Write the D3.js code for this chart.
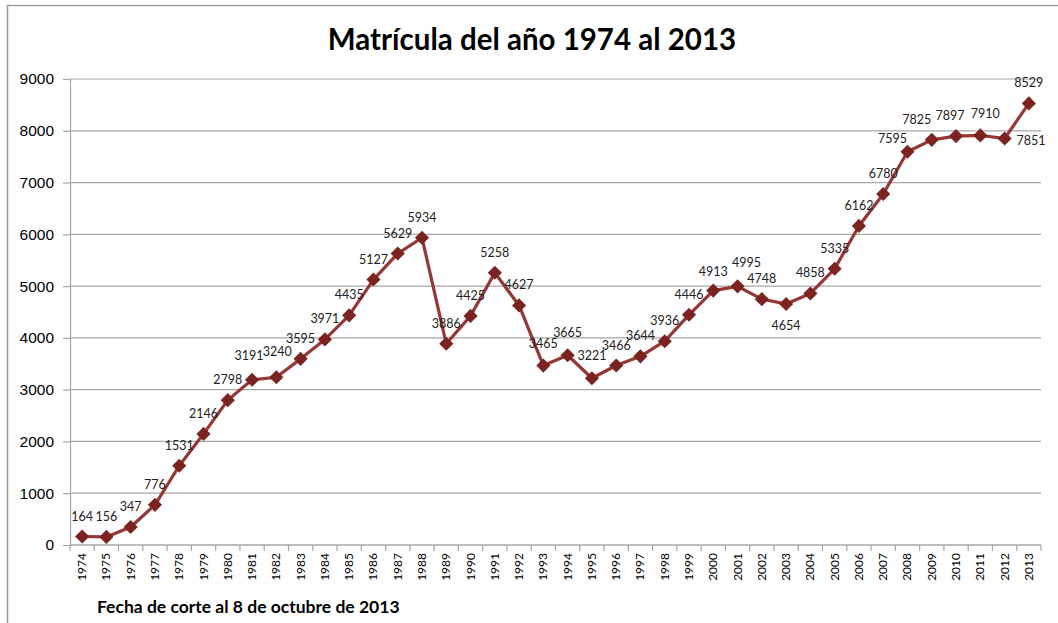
<!DOCTYPE html>
<html>
<head>
<meta charset="utf-8">
<script src="https://cdn.jsdelivr.net/npm/d3@7"></script>
<style>
  body { margin: 0; background: #fff; }
  svg { font-family: Lato, "Open Sans", sans-serif; }
  .grid line { stroke: #a6a6a6; stroke-width: 1.2; }
  .axis path, .axis line { stroke: #a6a6a6; stroke-width: 1.2; }
  .axis text { fill: #000; }
</style>
</head>
<body>
<svg id="chart" width="1058" height="623"></svg>
<script>
var years = ["1974","1975","1976","1977","1978","1979","1980","1981","1982","1983",
  "1984","1985","1986","1987","1988","1989","1990","1991","1992","1993",
  "1994","1995","1996","1997","1998","1999","2000","2001","2002","2003",
  "2004","2005","2006","2007","2008","2009","2010","2011","2012","2013"];
var enrolment = [164,156,347,776,1531,2146,2798,3191,3240,3595,
  3971,4435,5127,5629,5934,3886,4425,5258,4627,3465,
  3665,3221,3466,3644,3936,4446,4913,4995,4748,4654,
  4858,5335,6162,6780,7595,7825,7897,7910,7851,8529];
var yTicks = [0,1000,2000,3000,4000,5000,6000,7000,8000,9000];
// where each data label sits (default: above the marker)
var labelPos = { "2003": "below", "2012": "right" };
// small [dx, dy] nudges, as in the original, so crowded labels don't collide
var labelNudge = {
  "1981": [-3, -4], "1982": [1, -5],
  "1993": [0, -2], "1994": [0, -2], "1995": [0, -2],
  "2000": [0, 1], "2001": [9, -3],
  "2008": [-15, 7], "2009": [-15, 0], "2010": [-6, 0], "2011": [5, -1]
};

var title = "Matrícula del año 1974 al 2013";
var footnote = "Fecha de corte al 8 de octubre de 2013";

var margin = { top: 79, right: 17, bottom: 78, left: 70 };
var svg = d3.select("#chart");
var W = +svg.attr("width"), H = +svg.attr("height");
var width = W - margin.left - margin.right;
var height = H - margin.top - margin.bottom;

// outer frame (runs off the right and bottom of the picture)
svg.append("rect")
  .attr("x", 7.5).attr("y", 5.5)
  .attr("width", 1200).attr("height", 800)
  .attr("fill", "none").attr("stroke", "#9e9e9e").attr("stroke-width", 1.5);

svg.append("text")
  .attr("x", 532).attr("y", 50)
  .attr("text-anchor", "middle")
  .attr("font-size", 29.5).attr("font-weight", "bold")
  .text(title);

svg.append("text")
  .attr("x", 97).attr("y", 613)
  .attr("font-size", 17.5).attr("font-weight", "bold")
  .text(footnote);

var g = svg.append("g")
  .attr("transform", "translate(" + margin.left + "," + margin.top + ")");

var x = d3.scaleBand().domain(years).range([0, width]);
var y = d3.scaleLinear().domain([0, 9000]).range([height, 0]);

// gridlines
g.append("g").attr("class", "grid")
  .selectAll("line").data(yTicks).enter().append("line")
  .attr("x1", 0).attr("x2", width)
  .attr("y1", function(d){ return y(d); })
  .attr("y2", function(d){ return y(d); });

var yAxis = d3.axisLeft(y).tickValues(yTicks).tickFormat(d3.format("d"))
  .tickSize(7).tickPadding(9);
var yG = g.append("g").attr("class", "axis").call(yAxis);
yG.selectAll("text").attr("font-size", 15.5);

// x axis: ticks at band edges
var xG = g.append("g").attr("class", "axis")
  .attr("transform", "translate(0," + height + ")");
xG.append("line").attr("x1", 0).attr("x2", width);
xG.selectAll(".edge").data(years.concat(["end"])).enter().append("line")
  .attr("class", "edge")
  .attr("x1", function(d, i){ return i * x.step(); })
  .attr("x2", function(d, i){ return i * x.step(); })
  .attr("y1", 0).attr("y2", 6);
xG.selectAll(".lbl").data(years).enter().append("text")
  .attr("class", "lbl")
  .attr("font-size", 12)
  .attr("text-anchor", "end")
  .attr("transform", function(d){
    return "translate(" + (x(d) + x.bandwidth() / 2 + 4) + ",8) rotate(-90)";
  })
  .text(function(d){ return d; });

var pts = years.map(function(d, i){ return { year: d, value: enrolment[i] }; });
var cx = function(d){ return x(d.year) + x.bandwidth() / 2; };
var cy = function(d){ return y(d.value); };

var line = d3.line().x(cx).y(cy);
g.append("path")
  .attr("d", line(pts))
  .attr("fill", "none")
  .attr("stroke", "#953735")
  .attr("stroke-width", 3.2)
  .attr("stroke-linejoin", "round");

g.selectAll(".mark").data(pts).enter().append("path")
  .attr("class", "mark")
  .attr("d", d3.symbol().type(d3.symbolSquare).size(100))
  .attr("transform", function(d){ return "translate(" + cx(d) + "," + cy(d) + ") rotate(45)"; })
  .attr("fill", "#7b2320");

var nudge = function(d){ return labelNudge[d.year] || [0, 0]; };
g.selectAll(".val").data(pts).enter().append("text")
  .attr("class", "val")
  .attr("font-size", 12.5)
  .attr("fill", "#222")
  .attr("text-anchor", function(d){ return labelPos[d.year] === "right" ? "start" : "middle"; })
  .attr("x", function(d){
    if (labelPos[d.year] === "right") return cx(d) + 12;
    return cx(d) + nudge(d)[0];
  })
  .attr("y", function(d){
    var p = labelPos[d.year];
    if (p === "below") return cy(d) + 26;
    if (p === "right") return cy(d) + 7;
    return cy(d) - 16 + nudge(d)[1];
  })
  .text(function(d){ return d.value; });
</script>
</body>
</html>
